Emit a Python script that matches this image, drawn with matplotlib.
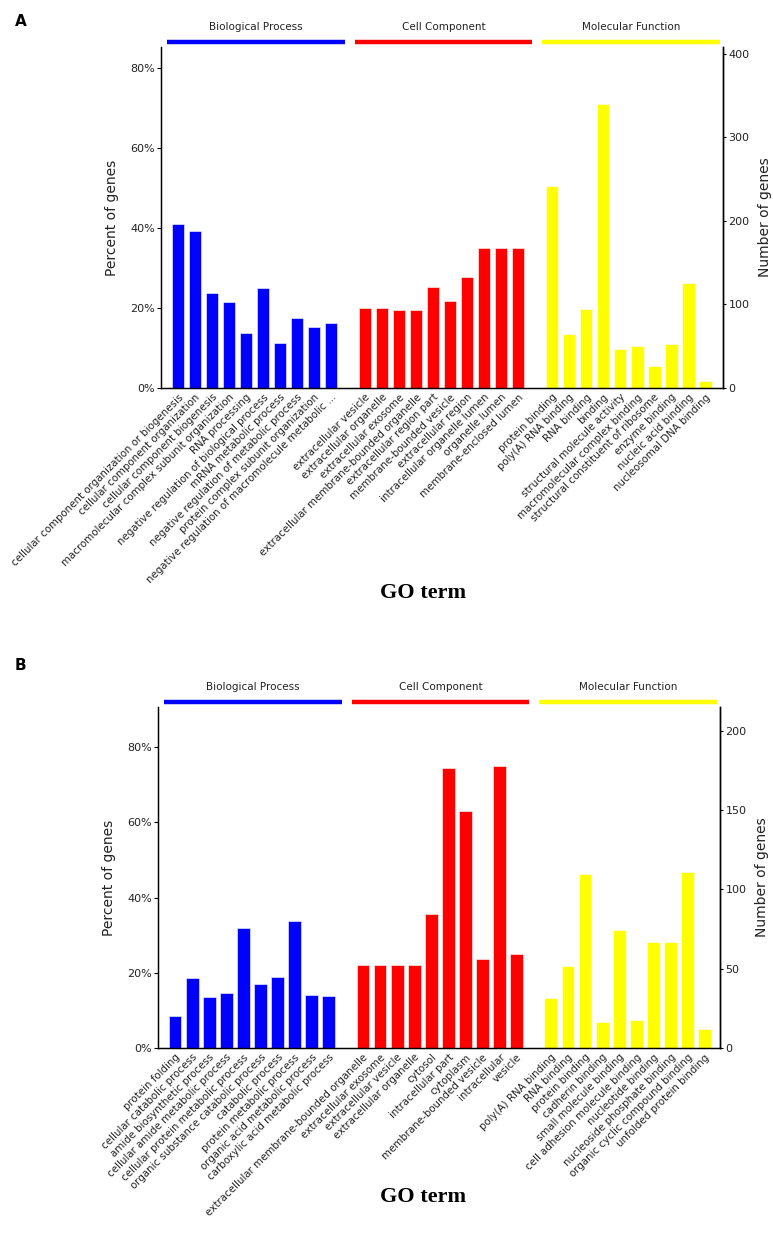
import matplotlib
matplotlib.use("Agg")
import matplotlib.pyplot as plt
import matplotlib.transforms as mtransforms
from matplotlib.ticker import FuncFormatter

# ---------------- data ----------------
groups = ["Biological Process", "Cell Component", "Molecular Function"]
group_colors = ["#0000FF", "#FF0000", "#FFFF00"]

a_bp_terms = ["cellular component organization or biogenesis",
              "cellular component organization",
              "cellular component biogenesis",
              "macromolecular complex subunit organization",
              "RNA processing",
              "negative regulation of biological process",
              "mRNA metabolic process",
              "negative regulation of metabolic process",
              "protein complex subunit organization",
              "negative regulation of macromolecule metabolic ..."]
a_bp_pct = [40.9, 39.3, 23.8, 21.5, 13.8, 25.1, 11.3, 17.5, 15.3, 16.3]
a_cc_terms = ["extracellular vesicle", "extracellular organelle",
              "extracellular exosome", "extracellular membrane-bounded organelle",
              "extracellular region part", "membrane-bounded vesicle",
              "extracellular region", "intracellular organelle lumen",
              "organelle lumen", "membrane-enclosed lumen"]
a_cc_pct = [20.0, 20.0, 19.6, 19.4, 25.3, 21.7, 27.8, 35.1, 35.1, 35.1]
a_mf_terms = ["protein binding", "poly(A) RNA binding", "RNA binding", "binding",
              "structural molecule activity", "macromolecular complex binding",
              "structural constituent of ribosome", "enzyme binding",
              "nucleic acid binding", "nucleosomal DNA binding"]
a_mf_pct = [50.5, 13.5, 19.8, 71.0, 9.8, 10.4, 5.4, 11.1, 26.3, 1.7]
a_pct_max = 85.2
a_num_max = 408

b_bp_terms = ["protein folding", "cellular catabolic process",
              "amide biosynthetic process", "cellular amide metabolic process",
              "cellular protein metabolic process",
              "organic substance catabolic process", "catabolic process",
              "protein metabolic process", "organic acid metabolic process",
              "carboxylic acid metabolic process"]
b_bp_pct = [8.4, 18.5, 13.5, 14.7, 31.8, 17.1, 18.9, 33.8, 14.2, 13.8]
b_cc_terms = ["extracellular membrane-bounded organelle", "extracellular exosome",
              "extracellular vesicle", "extracellular organelle", "cytosol",
              "intracellular part", "cytoplasm", "membrane-bounded vesicle",
              "intracellular", "vesicle"]
b_cc_pct = [22.2, 22.2, 22.2, 22.2, 35.6, 74.5, 63.1, 23.8, 74.9, 25.1]
b_mf_terms = ["poly(A) RNA binding", "RNA binding", "protein binding",
              "cadherin binding", "small molecule binding",
              "cell adhesion molecule binding", "nucleotide binding",
              "nucleoside phosphate binding", "organic cyclic compound binding",
              "unfolded protein binding"]
b_mf_pct = [13.4, 21.8, 46.4, 6.8, 31.4, 7.5, 28.1, 28.1, 46.8, 5.0]
b_pct_max = 90.7
b_num_max = 215
b_num_ticks = [0, 50, 100, 150, 200]
a_num_ticks = [0, 100, 200, 300, 400]
pct_ticks = [0, 20, 40, 60, 80]

W, H = 773, 1239
fig = plt.figure(figsize=(W / 100, H / 100), dpi=100)
plt.rcParams['font.family'] = ['DejaVu Sans']
TXT = "#222222"


def draw_panel(rect, xmax, terms_list, pct_list, pct_max, num_max, num_ticks, letter, letter_y, go_y):
    ax = fig.add_axes(rect)
    pos = 0
    xs_all, labels_all = [], []
    for terms, pcts, col in zip(terms_list, pct_list, group_colors):
        xs = list(range(pos, pos + len(terms)))
        ax.bar(xs, pcts, width=0.75, color=col, edgecolor="white", linewidth=0.4, zorder=2)
        xs_all += xs
        labels_all += terms
        pos += len(terms) + 1
    ax.set_xlim(-1, xmax)
    ax.set_ylim(0, pct_max)
    ax.set_yticks(pct_ticks)
    ax.yaxis.set_major_formatter(FuncFormatter(lambda v, p: f"{int(v)}%"))
    ax.set_xticks(xs_all)
    ax.set_xticklabels(labels_all, rotation=45, ha="right", rotation_mode="anchor",
                       fontsize=7.4, color=TXT)
    ax.tick_params(axis="x", length=0, pad=3)
    ax.tick_params(axis="y", labelsize=8, length=3, width=0.8, direction="out",
                   labelcolor=TXT, pad=1.5)
    ax.spines["top"].set_visible(False)
    for s in ["left", "bottom", "right"]:
        ax.spines[s].set_linewidth(1.0)
    ax.set_ylabel("Percent of genes", fontsize=10, color=TXT, labelpad=8)

    ax2 = ax.twinx()
    ax2.set_ylim(0, num_max)
    ax2.set_yticks(num_ticks)
    ax2.tick_params(axis="y", labelsize=8, length=2.5, width=0.8, labelcolor=TXT, pad=1.5)
    ax2.spines["top"].set_visible(False)
    ax2.spines["right"].set_linewidth(1.0)
    ax2.set_ylabel("Number of genes", fontsize=10, color=TXT, labelpad=6)

    for i, (name, col) in enumerate(zip(groups, group_colors)):
        x0 = i / 3 + 0.011
        x1 = (i + 1) / 3 - 0.006
        ax.plot([x0, x1], [1.015, 1.015], color=col, lw=3.2,
                transform=ax.transAxes, clip_on=False, solid_capstyle="butt")
        ax.text((x0 + x1) / 2, 1.058, name, transform=ax.transAxes, ha="center",
                va="center", fontsize=7.5, color=TXT)

    fig.text(15 / W, 1 - letter_y / H, letter, fontsize=11, fontweight="bold",
             ha="left", va="center")
    fig.text(423 / W, 1 - go_y / H, "GO term", fontsize=16, fontweight="bold",
             family="Liberation Serif", ha="center", va="center")
    return ax


def rect_from_px(left, right, top, bottom):
    return [left / W, 1 - bottom / H, (right - left) / W, (bottom - top) / H]


draw_panel(rect_from_px(161, 723, 47, 388), 32.05,
           [a_bp_terms, a_cc_terms, a_mf_terms],
           [a_bp_pct, a_cc_pct, a_mf_pct],
           a_pct_max, a_num_max, a_num_ticks, "A", 22, 593)

draw_panel(rect_from_px(158, 720, 707, 1048), 31.9,
           [b_bp_terms, b_cc_terms, b_mf_terms],
           [b_bp_pct, b_cc_pct, b_mf_pct],
           b_pct_max, b_num_max, b_num_ticks, "B", 665, 1197)

fig.savefig("out.png", dpi=100)
